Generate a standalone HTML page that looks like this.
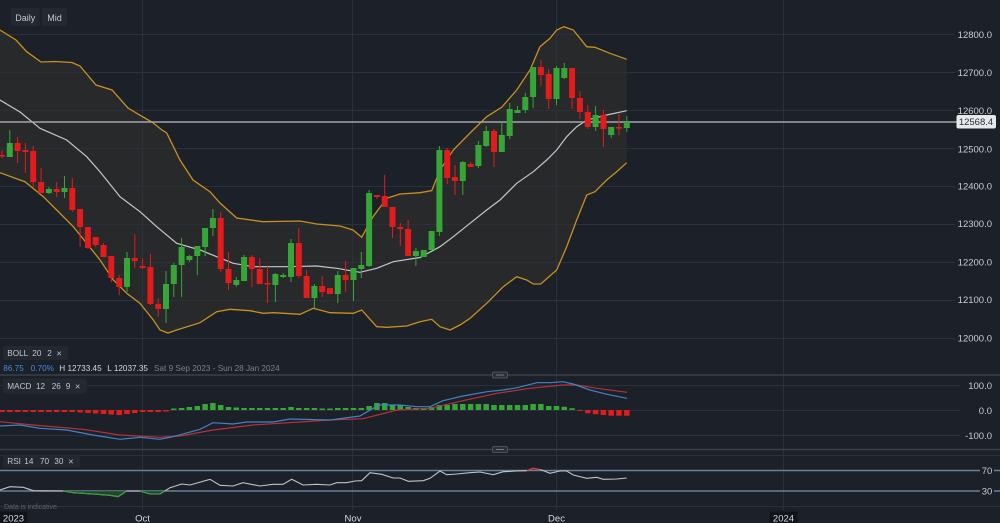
<!DOCTYPE html>
<html><head><meta charset="utf-8"><style>
html,body{margin:0;padding:0;background:#1b2029;}
svg{display:block;font-family:"Liberation Sans",sans-serif;}
</style></head><body>
<svg width="1000" height="523" viewBox="0 0 1000 523" xmlns="http://www.w3.org/2000/svg">
<rect x="0" y="0" width="1000" height="523" fill="#1b2029"/>
<polygon fill="#27292b" points="0,30 16,40 26.7,51.7 41,62 55,61.5 72,62.5 80,66 96,85 112,90 128,108 143,117 152,122 162,130 166.7,133 180,160 193,180 210,191.7 220,203 236.7,218 263,221.7 300,221 316.7,224 340,226 353,230 361.7,237.3 373,216.7 386.7,198.3 400,194 420,192.7 431.7,190.7 440,170 453.3,150 470,133 486.7,116.7 501.7,107.3 516.7,90 530,70 540,46.7 550,38.3 556.7,30 564,26.7 573.3,30 586.7,46.7 595,47.3 610,53.3 626.7,59.3 626.7,162.7 616.7,171.7 606.7,180 595,191.7 586.7,195 576.7,220 566.7,246.7 556.7,270 540.7,284 533.3,284 526.7,280 516.7,276.7 503.3,286.7 486.7,303.3 470,318.3 460,325 450,330 440,326.7 431.7,319.3 420,321.7 406.7,326 386.7,327.3 376.7,326.7 361.7,310 353.3,313.3 330,312.7 313.3,308.3 300,314.3 273.3,312.7 263.3,313.3 250,310.7 230,309.3 216.7,311.7 200,322.7 176.7,330 168,333 160,330 153.3,320 140,303.3 126.7,293.3 113.3,280 100,260 86.7,243.3 73.3,226.7 56.7,210 43.3,196.7 25,181.7 20,180 0,172.7"/>
<path fill="none" stroke="#2a313b" stroke-width="1" d="M0 34.5H955M0 72.5H955M0 110.5H955M0 148.5H955M0 186.5H955M0 224.5H955M0 262.5H955M0 300.5H955M0 338.5H955M0 385.5H960M0 410.5H960M0 435.5H960M0 455.5H1000M0 506.5H1000M142.5 0V510M352.5 0V510M556.5 0V510M783.5 0V510"/>
<polyline fill="none" stroke="#c8911c" stroke-width="1.3" points="0,30 16,40 26.7,51.7 41,62 55,61.5 72,62.5 80,66 96,85 112,90 128,108 143,117 152,122 162,130 166.7,133 180,160 193,180 210,191.7 220,203 236.7,218 263,221.7 300,221 316.7,224 340,226 353,230 361.7,237.3 373,216.7 386.7,198.3 400,194 420,192.7 431.7,190.7 440,170 453.3,150 470,133 486.7,116.7 501.7,107.3 516.7,90 530,70 540,46.7 550,38.3 556.7,30 564,26.7 573.3,30 586.7,46.7 595,47.3 610,53.3 626.7,59.3"/>
<polyline fill="none" stroke="#c8911c" stroke-width="1.3" points="626.7,162.7 616.7,171.7 606.7,180 595,191.7 586.7,195 576.7,220 566.7,246.7 556.7,270 540.7,284 533.3,284 526.7,280 516.7,276.7 503.3,286.7 486.7,303.3 470,318.3 460,325 450,330 440,326.7 431.7,319.3 420,321.7 406.7,326 386.7,327.3 376.7,326.7 361.7,310 353.3,313.3 330,312.7 313.3,308.3 300,314.3 273.3,312.7 263.3,313.3 250,310.7 230,309.3 216.7,311.7 200,322.7 176.7,330 168,333 160,330 153.3,320 140,303.3 126.7,293.3 113.3,280 100,260 86.7,243.3 73.3,226.7 56.7,210 43.3,196.7 25,181.7 20,180 0,172.7"/>
<polyline fill="none" stroke="#c4c7cb" stroke-width="1.2" points="0,100 20,112 40,128.3 66.7,140 86.7,156.7 100,171.7 120,196.7 140,211.7 156.7,226.7 176.7,243.3 200,250 216.7,256.7 233.3,263.3 253.3,266.7 286.7,266.7 316.7,266 336.7,268.3 360,272.3 376.7,268.3 393.3,261.7 420,257.5 440,246.7 453.3,236.7 470,223.3 486.7,210 500,200 516.7,183.3 533.3,171.7 546.7,160 556.7,150 566.7,136.7 576.7,126.7 586.7,120 606.7,115 626.7,110.7"/>
<line x1="0" y1="122" x2="957" y2="122" stroke="#a2a5aa" stroke-width="1.6"/>
<path fill="none" stroke="#e31b1d" stroke-width="1" d="M2 150V158M17.6 137V163M25.4 143V173M33.2 146V187M41.1 168V193M56.7 182V197M72.3 178V212M80.1 209V247M87.9 227V249M95.7 237V247M103.5 243V257M111.3 256V282M119.2 275V295M134.8 234V268M142.6 258V269M150.4 254V305M158.2 298V317M220.7 212V272M228.5 252V290M251.9 255V287M259.7 258V284M267.5 265V303M298.8 228V278M306.6 270V298M322.2 276V297M330 288V294M345.6 261V292M376.9 195V199M384.7 175V207M392.5 207V238M400.3 223V246M408.1 220V256M447.2 148V184M455 165V195M470.6 162V167M494 129V167M540.9 60V86M548.7 69V109M572.1 68V109M579.9 91V119M587.8 105V129M603.4 110V147M619 114V135"/>
<path fill="none" stroke="#e31b1d" stroke-width="6" d="M2 155V156.5M17.6 143V151M25.4 150V152M33.2 151V182M41.1 182V193M56.7 189V192M72.3 188V210M80.1 209V227M87.9 227V248M95.7 237V245M103.5 245V257M111.3 256V278M119.2 278V287M134.8 258V261M142.6 266V268M150.4 267V304M158.2 304V309M220.7 218V269M228.5 269V283M251.9 257V269M259.7 269V284M267.5 283V284.5M298.8 243V276M306.6 276V298M322.2 286V292M330 288V294M345.6 275V280M376.9 195V197M384.7 196V207M392.5 207V227M400.3 227V229M408.1 229V256M447.2 150V178M455 177V181M470.6 164V167M494 131V152M540.9 67V75M548.7 74V99M572.1 68V98M579.9 98V112M587.8 112V127M603.4 115V129M619 127V128.5"/>
<path fill="none" stroke="#37a638" stroke-width="1" d="M9.8 130V157M48.9 187V194M64.5 176V198M127 252V292M166 271V323M173.8 263V297M181.6 238V297M189.4 255V262M197.3 246V275M205.1 228V256M212.9 209V236M236.3 277V287M244.1 255V281M275.4 273V302M283.2 273V278M291 239V282M314.4 284V308M337.8 271V303M353.5 268V301M361.3 252V278M369.1 190V267M415.9 248V266M423.7 250V257M431.6 231V251M439.4 146V236M462.8 161V195M478.4 141V168M486.2 126V147M501.8 123V152M509.7 103V139M517.5 106V113M525.3 93V113M533.1 67V108M556.5 66V105M564.3 63V79M595.6 106V131M611.2 127V138M626.8 116V132"/>
<path fill="none" stroke="#37a638" stroke-width="6" d="M9.8 143V157M48.9 189V193M64.5 188V192M127 258V287M166 284V309M173.8 265V284M181.6 247V265M189.4 256V260M197.3 246V256M205.1 228V247M212.9 218V228M236.3 280V285M244.1 257V281M275.4 274V285M283.2 275V277M291 243V277M314.4 286V298M337.8 275V294M353.5 268V280M361.3 265V269M369.1 193V266M415.9 251V256M423.7 250V257M431.6 231V250M439.4 150V232M462.8 162V181M478.4 145V166M486.2 131V146M501.8 135V152M509.7 109V136M517.5 110V113M525.3 97V110M533.1 67V97M556.5 68V99M564.3 68V78M595.6 115V127M611.2 127V135M626.8 122V128"/>
<g fill="#c9cdd2" font-size="9.5" text-anchor="end">
<text x="992" y="38">12800.0</text><text x="992" y="76">12700.0</text><text x="992" y="114">12600.0</text><text x="992" y="152.5">12500.0</text><text x="992" y="189.5">12400.0</text><text x="992" y="227">12300.0</text><text x="992" y="265.5">12200.0</text><text x="992" y="303">12100.0</text><text x="992" y="341.5">12000.0</text>
<text x="992" y="389">100.0</text><text x="992" y="414">0.0</text><text x="992" y="439">-100.0</text>
</g>
<rect x="956.5" y="115" width="39.5" height="13.5" rx="2" fill="#e7e9ec"/>
<text x="976" y="125" font-size="9.5" fill="#2a2e35" text-anchor="middle">12568.4</text>
<rect x="11" y="8" width="28.5" height="18" rx="2" fill="#232831"/>
<rect x="42" y="8" width="25" height="18" rx="2" fill="#232831"/>
<text x="25.3" y="21" font-size="9" fill="#c3c7cd" text-anchor="middle">Daily</text>
<text x="54.5" y="21" font-size="9" fill="#c3c7cd" text-anchor="middle">Mid</text>
<line x1="0" y1="375" x2="1000" y2="375" stroke="#3b4048" stroke-width="1.5"/>
<line x1="0" y1="449.5" x2="1000" y2="449.5" stroke="#3b4048" stroke-width="1.5"/>
<rect x="492.5" y="372" width="15" height="6" rx="1.5" fill="#2c3037" stroke="#5a5f67" stroke-width="0.8"/>
<line x1="496" y1="375" x2="504" y2="375" stroke="#8a8f96" stroke-width="0.8"/>
<rect x="492.5" y="446.5" width="15" height="6" rx="1.5" fill="#2c3037" stroke="#5a5f67" stroke-width="0.8"/>
<line x1="496" y1="449.5" x2="504" y2="449.5" stroke="#8a8f96" stroke-width="0.8"/>
<rect x="3" y="346" width="65" height="14" rx="2" fill="#232831"/>
<g font-size="8.2" fill="#c3c7cd"><text x="7.3" y="356">BOLL</text><text x="32.3" y="356">20</text><text x="47.3" y="356">2</text><text x="56.5" y="356.5" font-size="9">×</text></g>
<g font-size="8.2"><text x="3.3" y="371" fill="#3d8fe0">86.75</text><text x="30.7" y="371" fill="#3d8fe0">0.70%</text><text x="59.3" y="371" fill="#d6d9dd">H 12733.45</text><text x="107.3" y="371" fill="#d6d9dd">L 12037.35</text><text x="154" y="371" fill="#7a8089">Sat 9 Sep 2023 - Sun 28 Jan 2024</text></g>
<rect x="3" y="378.5" width="84" height="15" rx="2" fill="#232831"/>
<g font-size="8.2" fill="#c3c7cd"><text x="7.3" y="389">MACD</text><text x="36" y="389">12</text><text x="51.7" y="389">26</text><text x="65.7" y="389">9</text><text x="75" y="389.5" font-size="9">×</text></g>
<path fill="none" stroke="#e31b1d" stroke-width="5.5" d="M2 410V412M9.8 410V412M17.6 410V412M25.4 410V412M33.2 410V412M41.1 410V412M48.9 410V412M56.7 410V412M64.5 410V412M72.3 410V412M80.1 410V412.5M87.9 410V413M95.7 410V413.5M103.5 410V414M111.3 410V414.5M119.2 410V415M127 410V414M134.8 410V413M142.6 410V412M150.4 410V412M158.2 410V412M166 410V411.5M579.9 410V411M587.8 410V413.3M595.6 410V414.3M603.4 410V415M611.2 410V415.7M619 410V415.7M626.8 410V415.7"/>
<path fill="none" stroke="#37a638" stroke-width="5.5" d="M173.8 410V408.5M181.6 410V408M189.4 410V407M197.3 410V406M205.1 410V404M212.9 410V403M220.7 410V405M228.5 410V407M236.3 410V407.5M244.1 410V408M251.9 410V408M259.7 410V408M267.5 410V408M275.4 410V408M283.2 410V408M291 410V407M298.8 410V408M306.6 410V408M314.4 410V408M322.2 410V408.5M330 410V408.5M337.8 410V408M345.6 410V408M353.5 410V408M361.3 410V408M369.1 410V406M376.9 410V403M384.7 410V403M392.5 410V405M400.3 410V405M408.1 410V407M415.9 410V408M423.7 410V408M431.6 410V407M439.4 410V405M447.2 410V405M455 410V404M462.8 410V404M470.6 410V404M478.4 410V404M486.2 410V404M494 410V405M501.8 410V405M509.7 410V405M517.5 410V405M525.3 410V405M533.1 410V404M540.9 410V404M548.7 410V406M556.5 410V406M564.3 410V406.7M572.1 410V408.3"/>
<polyline fill="none" stroke="#b8313b" stroke-width="1.2" points="0,421.7 33,425 83,429.3 120,435 160,437.3 180,436 213,430 253,425 330,420 363,418.7 397,410 430,408.3 463,400.7 497,393.3 530,388.3 563,385 577,385 597,388.3 627,392.3"/>
<polyline fill="none" stroke="#3f83c4" stroke-width="1.2" points="0,426 20,425 40,428.3 66.7,430 93,435 120,439.3 140,437.3 160,439.3 173,436.7 200,429.3 213,422.7 233,424 246.7,422 273,422 290,419 330,420 360,416 373,408.3 380,405 400,405 416.7,406.7 430,406.7 443,400.7 463,396 487,391.7 503,390 517,387.7 537,382.7 550,382.7 563,381.7 573,384 590,390 607,394.3 627,398.3"/>
<rect x="3" y="454.5" width="77" height="13" rx="2" fill="#232831"/>
<g font-size="8.2" fill="#c3c7cd"><text x="7.3" y="464">RSI</text><text x="24.3" y="464">14</text><text x="40" y="464">70</text><text x="54.3" y="464">30</text><text x="68.3" y="464.5" font-size="9">×</text></g>
<line x1="0" y1="470.5" x2="1000" y2="470.5" stroke="#6a7f98" stroke-width="1.5"/>
<line x1="0" y1="491" x2="1000" y2="491" stroke="#6a7f98" stroke-width="1.5"/>
<rect x="980" y="465" width="14" height="11" fill="#1b2029"/>
<rect x="980" y="486" width="14" height="11" fill="#1b2029"/>
<text x="987" y="474" font-size="9.5" fill="#c9cdd2" text-anchor="middle">70</text>
<text x="987" y="494.5" font-size="9.5" fill="#c9cdd2" text-anchor="middle">30</text>
<polygon fill="#23512a" fill-opacity="0.8" points="63.3,491 73.3,492.7 93,494 110,495.3 118,496.7 126.7,491"/>
<polygon fill="#23512a" fill-opacity="0.8" points="140,491 150,494 160,494 165,491"/>
<polyline fill="none" stroke="#c2c4c7" stroke-width="1.1" points="0,490 10,486.7 23.3,487.3 33.3,490.7 63.3,491 73.3,492.7 93,494 110,495.3 118,496.7 126.7,491 140,491 150,494 160,494 170,487.7 181.7,484 190,485 210,479.3 220,485.3 233,486 243,482.7 260,486 273,484.3 283,484.3 291.7,479.3 303,485 316.7,484.3 330,485 336.7,482.7 346.7,482.7 355,481 361.7,480.7 370,472.7 381.7,474.3 393.3,478 400,478 408.3,481.3 423.3,480.7 430,478.3 440,471 446.7,474.7 456.7,474 470,472.7 480,472 493.3,474.7 503.3,471.7 516.7,471 526.7,470.7 533.3,468.3 541.7,470 550,473.3 560,471 566.7,471 573.3,475 586.7,478.3 596.7,477.3 603.3,479.3 616.7,479 626.7,478"/>
<polyline fill="none" stroke="#3a9a3a" stroke-width="1.2" points="63.3,491 73.3,492.7 93,494 110,495.3 118,496.7 126.7,491"/>
<polyline fill="none" stroke="#3a9a3a" stroke-width="1.2" points="140,491 150,494 160,494 165,491"/>
<polyline fill="none" stroke="#d03a3a" stroke-width="1.2" points="527,470.5 533.3,468.3 540,470.2"/>
<text x="4" y="509" font-size="7" fill="#5f656e">Data is indicative</text>
<rect x="0" y="511.5" width="27.5" height="11.5" fill="#10141a"/>
<text x="13.5" y="521.5" font-size="9.5" fill="#d6d9dd" text-anchor="middle">2023</text>
<text x="142.5" y="521.5" font-size="9.5" fill="#d6d9dd" text-anchor="middle">Oct</text>
<text x="353" y="521.5" font-size="9.5" fill="#d6d9dd" text-anchor="middle">Nov</text>
<text x="556.5" y="521.5" font-size="9.5" fill="#d6d9dd" text-anchor="middle">Dec</text>
<rect x="769.5" y="511.5" width="28" height="11.5" fill="#10141a"/>
<text x="783.5" y="521.5" font-size="9.5" fill="#d6d9dd" text-anchor="middle">2024</text>
</svg>
</body></html>
